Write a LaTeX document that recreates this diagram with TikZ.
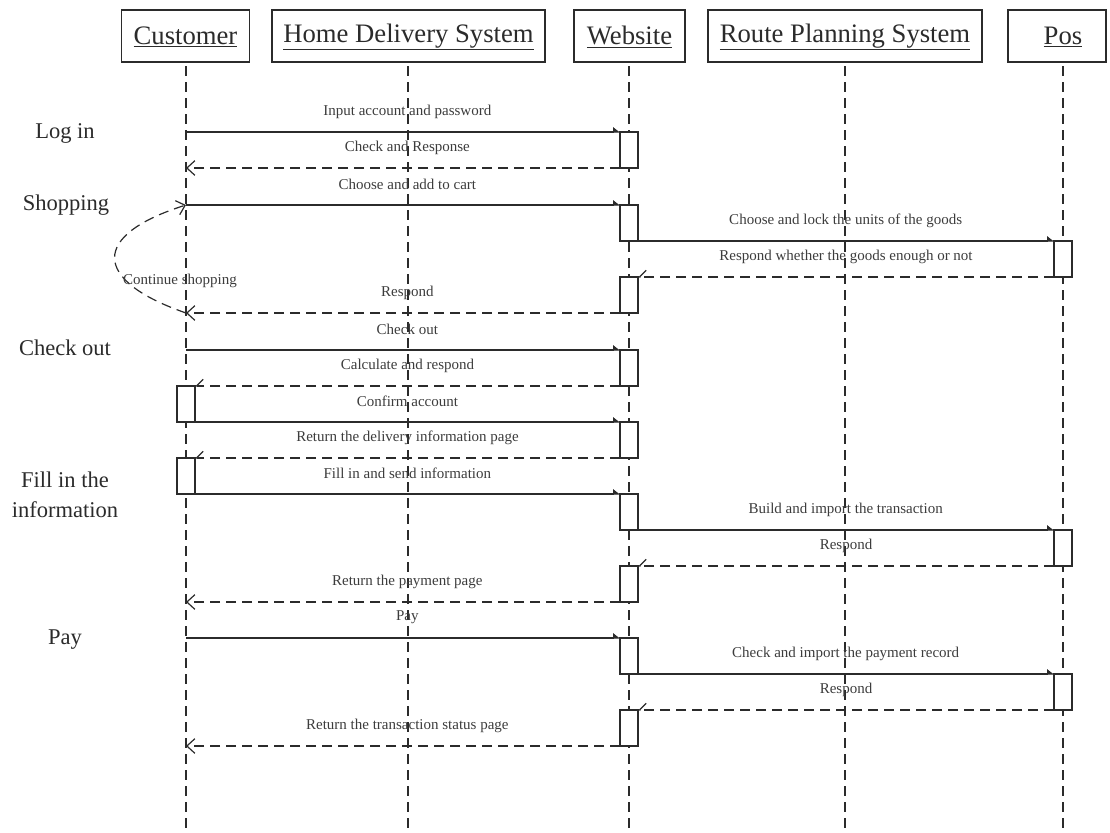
\documentclass[tikz,border=0pt]{standalone}
\usepackage{fontspec}
\setmainfont{Liberation Serif}
\usetikzlibrary{arrows.meta}
\definecolor{ink}{HTML}{2B2B2B}
\definecolor{labelink}{HTML}{3C3C3C}

\begin{document}
\begin{tikzpicture}[x=0.75pt,y=-0.75pt,
  header/.style={draw=ink, line width=1.1pt, minimum height=39pt, inner sep=0pt},
  headtext/.style={font=\fontsize{20}{24}\selectfont, text=ink, inner sep=0pt},
  lifeline/.style={draw=ink, line width=1.1pt, dash pattern=on 7.5pt off 4.5pt, dash phase=-3pt},
  act/.style={draw=ink, fill=white, line width=1.1pt, minimum width=13.5pt, minimum height=27pt, inner sep=0pt, outer sep=0pt, anchor=north},
  call/.style={draw=ink, line width=0.9pt, -{Triangle[harpoon, length=4.5pt, width=7pt]}},
  reply/.style={draw=ink, line width=0.9pt, dash pattern=on 7.5pt off 4.5pt, -{Straight Barb[length=6pt, width=11pt]}},
  replyact/.style={draw=ink, line width=0.9pt, dash pattern=on 7.5pt off 4.5pt, -{Straight Barb[harpoon, swap, length=5pt, width=10pt]}},
  msg/.style={font=\fontsize{11.25}{13}\selectfont, text=labelink, inner sep=0pt, yshift=15.4pt},
  phase/.style={font=\fontsize{16.9}{22.5}\selectfont, text=ink, align=center, inner sep=0pt}
]
\useasboundingbox (0,0) rectangle (1110,832);
\coordinate (bottom) at (0,832);

% participants
\node[header, minimum width=96pt] (cust) at (185.5,36) {};
\node[headtext] (custname) at (185.5,37) {\underline{Customer}};
\node[header, minimum width=204.75pt] (hds) at (408.5,36) {};
\node[headtext] (hdsname) at (408.5,37) {\underline{Home Delivery System}};
\node[header, minimum width=83.25pt] (web) at (629.5,36) {};
\node[headtext] (webname) at (629.5,37) {\underline{Website}};
\node[header, minimum width=205.5pt] (rps) at (845,36) {};
\node[headtext] (rpsname) at (845,37) {\underline{Route Planning System}};
\node[header, minimum width=73.5pt] (pos) at (1057,36) {};
\node[headtext] (posname) at (1063,37) {\underline{Pos}};

% lifelines
\coordinate (custtop) at (186,62);
\coordinate (hdstop) at (408,62);
\coordinate (webtop) at (629,62);
\coordinate (rpstop) at (845,62);
\coordinate (postop) at (1063,62);
\foreach \l in {custtop,hdstop,webtop,rpstop,postop}
  \draw[lifeline] (\l) -- (\l |- bottom);

% activation bars
\node[act] (a1) at (629,132) {};
\node[act] (a2) at (629,205) {};
\node[act] (a3) at (629,277) {};
\node[act] (a4) at (629,350) {};
\node[act] (a5) at (629,422) {};
\node[act] (a6) at (629,494) {};
\node[act] (a7) at (629,566) {};
\node[act] (a8) at (629,638) {};
\node[act] (a9) at (629,710) {};
\node[act] (p1) at (1063,241) {};
\node[act] (p2) at (1063,530) {};
\node[act] (p3) at (1063,674) {};
\node[act] (c1) at (186,386) {};
\node[act] (c2) at (186,458) {};

% phases
\node[phase] (ph1) at (65,133) {Log in};
\node[phase] (ph2) at (66,205) {Shopping};
\node[phase] (ph3) at (65,348) {Check out};
\node[phase] (ph4) at (65,495) {Fill in the\\information};
\node[phase] (ph5) at (65,640) {Pay};

% messages
\draw[call] (custtop |- a1.north west) -- node[msg, pos=0.51] {Input account and password} (a1.north west);
\draw[reply] (a1.south west) -- node[msg, pos=0.49] {Check and Response} (custtop |- a1.south west);
\draw[call] (custtop |- a2.north west) -- node[msg, pos=0.51] {Choose and add to cart} (a2.north west);
\draw[call] (a2.south west) -- node[msg, pos=0.52] {Choose and lock the units of the goods} (p1.north west);
\draw[replyact] (p1.south west) -- node[msg, pos=0.5] {Respond whether the goods enough or not} (a3.north east);
\draw[reply] (a3.south west) -- node[msg, pos=0.49] {Respond} (custtop |- a3.south west);
\draw[reply] (custtop |- a3.south west) .. controls (91,280) and (91,235) .. (custtop |- a2.north west);
\node[msg, yshift=-15.4pt] (loop) at (180,281) {Continue shopping};
\draw[call] (custtop |- a4.north west) -- node[msg, pos=0.51] {Check out} (a4.north west);
\draw[replyact] (a4.south west) -- node[msg, pos=0.5] {Calculate and respond} (c1.north east);
\draw[call] (c1.south west) -- node[msg, pos=0.52] {Confirm account} (a5.north west);
\draw[replyact] (a5.south west) -- node[msg, pos=0.5] {Return the delivery information page} (c2.north east);
\draw[call] (c2.south west) -- node[msg, pos=0.52] {Fill in and send information} (a6.north west);
\draw[call] (a6.south west) -- node[msg, pos=0.52] {Build and import the transaction} (p2.north west);
\draw[replyact] (p2.south west) -- node[msg, pos=0.5] {Respond} (a7.north east);
\draw[reply] (a7.south west) -- node[msg, pos=0.49] {Return the payment page} (custtop |- a7.south west);
\draw[call] (custtop |- a8.north west) -- node[msg, pos=0.51] {Pay} (a8.north west);
\draw[call] (a8.south west) -- node[msg, pos=0.52] {Check and import the payment record} (p3.north west);
\draw[replyact] (p3.south west) -- node[msg, pos=0.5] {Respond} (a9.north east);
\draw[reply] (a9.south west) -- node[msg, pos=0.49] {Return the transaction status page} (custtop |- a9.south west);
\end{tikzpicture}
\end{document}
